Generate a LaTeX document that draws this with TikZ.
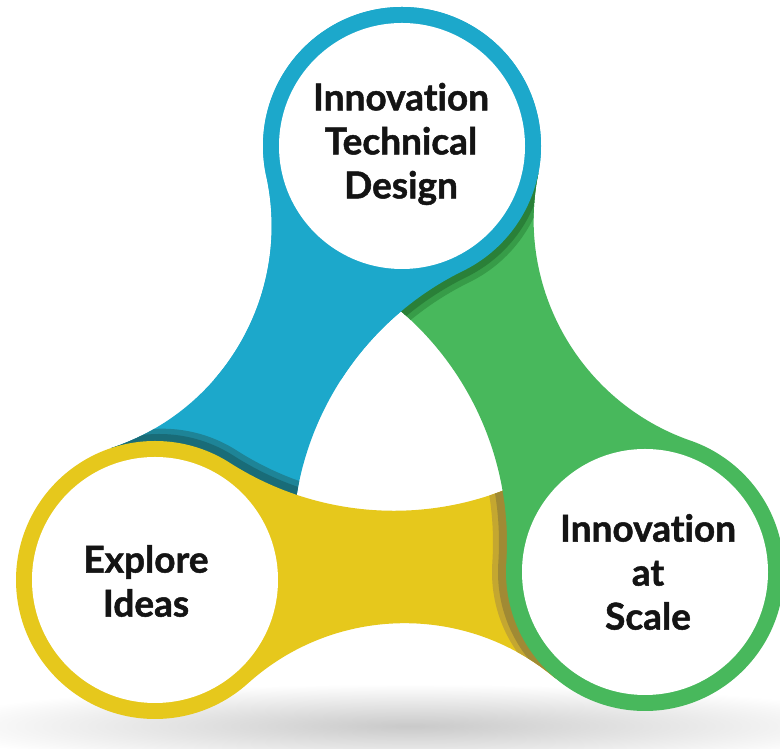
\documentclass[tikz,border=0pt]{standalone}
\usepackage{fontspec}
\setmainfont{Lato}[Ligatures={NoCommon,NoRare}, BoldFeatures={FakeBold=1.3}]

\definecolor{blueC}{HTML}{1CA8CB}
\definecolor{tealA}{HTML}{1E8497}
\definecolor{tealB}{HTML}{196C78}
\definecolor{greenC}{HTML}{48B85C}
\definecolor{greenA}{HTML}{379C48}
\definecolor{greenB}{HTML}{2A8038}
\definecolor{yellowC}{HTML}{E6C81C}
\definecolor{oliveA}{HTML}{C4A730}
\definecolor{oliveB}{HTML}{A08A34}

% ring radii and radii of the gaps that shape the necks (pt)
\def\RingOut{139}
\def\RingIn{123}
\def\GapIn{305}
\def\GapOut{234}

% \mkneck{name}{Ax}{Ay}{Bx}{By}: stores \neck<name>, the closed path of the
% neck running from disk A to disk B, bounded by two arcs tangent to both disks
\newcommand\mkneck[5]{%
  \edef\nkAx{#2}\edef\nkAy{#3}\edef\nkBx{#4}\edef\nkBy{#5}%
  \edef\nkD{\fpeval{sqrt(((\nkBx)-(\nkAx))^2+((\nkBy)-(\nkAy))^2)}}%
  \edef\nkNx{\fpeval{((\nkAy)-(\nkBy))/(\nkD)}}%
  \edef\nkNy{\fpeval{((\nkBx)-(\nkAx))/(\nkD)}}%
  \edef\nkMx{\fpeval{((\nkAx)+(\nkBx))/2}}%
  \edef\nkMy{\fpeval{((\nkAy)+(\nkBy))/2}}%
  \edef\nkHi{\fpeval{sqrt((\GapIn+\RingOut)^2-((\nkD)/2)^2)}}%
  \edef\nkHo{\fpeval{sqrt((\GapOut+\RingOut)^2-((\nkD)/2)^2)}}%
  \edef\nkCix{\fpeval{(\nkMx)+(\nkHi)*(\nkNx)}}%
  \edef\nkCiy{\fpeval{(\nkMy)+(\nkHi)*(\nkNy)}}%
  \edef\nkCox{\fpeval{(\nkMx)-(\nkHo)*(\nkNx)}}%
  \edef\nkCoy{\fpeval{(\nkMy)-(\nkHo)*(\nkNy)}}%
  \edef\nkOa{\fpeval{atand((\nkAy)-(\nkCoy),(\nkAx)-(\nkCox))}}%
  \edef\nkOb{\fpeval{atand((\nkBy)-(\nkCoy),(\nkBx)-(\nkCox))}}%
  \edef\nkIa{\fpeval{atand((\nkAy)-(\nkCiy),(\nkAx)-(\nkCix))}}%
  \edef\nkIb{\fpeval{atand((\nkBy)-(\nkCiy),(\nkBx)-(\nkCix))}}%
  \edef\nkOd{\fpeval{(\nkOb)-(\nkOa)}}%
  \edef\nkOd{\fpeval{round((\nkOd)>180?(\nkOd)-360:((\nkOd)<-180?(\nkOd)+360:(\nkOd)),4)}}%
  \edef\nkId{\fpeval{(\nkIa)-(\nkIb)}}%
  \edef\nkId{\fpeval{round((\nkId)>180?(\nkId)-360:((\nkId)<-180?(\nkId)+360:(\nkId)),4)}}%
  \edef\nkPx{\fpeval{round((\nkCox)+\GapOut*cosd(\nkOa),3)}}%
  \edef\nkPy{\fpeval{round((\nkCoy)+\GapOut*sind(\nkOa),3)}}%
  \edef\nkQx{\fpeval{round((\nkCix)+\GapIn*cosd(\nkIb),3)}}%
  \edef\nkQy{\fpeval{round((\nkCiy)+\GapIn*sind(\nkIb),3)}}%
  \edef\nkOa{\fpeval{round(\nkOa,4)}}%
  \edef\nkIb{\fpeval{round(\nkIb,4)}}%
  \expandafter\xdef\csname neck#1\endcsname{(\nkAx,\nkAy) -- (\nkPx,\nkPy)
    arc[start angle=\nkOa, delta angle=\nkOd, radius=\GapOut pt]
    -- (\nkBx,\nkBy) -- (\nkQx,\nkQy)
    arc[start angle=\nkIb, delta angle=\nkId, radius=\GapIn pt] -- cycle}%
}

% disk centres: T (top), L (left), R (right)
\mkneck{TL}{402}{603}{155}{169}
\mkneck{LR}{155}{169}{645}{177}
\mkneck{RT}{645}{177}{402}{603}

\begin{document}
\begin{tikzpicture}[x=1pt,y=1pt,
  face/.style={fill=white},
  lbl/.style={align=center, text=black!92, inner sep=0pt,
    font=\bfseries\fontsize{37pt}{44pt}\selectfont}]
\useasboundingbox (0,0) rectangle (780,749);
\fill[white] (0,0) rectangle (780,749);

% soft floor shadow
\begin{scope}
  \clip (0,0) rectangle (780,749);
  \shade[inner color=black!21, outer color=white]
    (410,23) ellipse[x radius=480pt, y radius=42pt];
\end{scope}

% blue disk with its neck
\fill[blueC] \neckTL (402,603) circle[radius=\RingOut pt];

% shadow of the yellow shape on the blue
\begin{scope}
  \clip \neckTL (402,603) circle[radius=\RingOut pt];
  \fill[tealA, shift={(7,12.3)}] \neckLR (155,169) circle[radius=\RingOut pt];
  \fill[tealB, shift={(4,7)}] \neckLR (155,169) circle[radius=\RingOut pt];
\end{scope}

% yellow disk with its neck
\fill[yellowC] \neckLR (155,169) circle[radius=\RingOut pt];

% shadow of the green shape on the yellow
\begin{scope}
  \clip \neckLR (155,169) circle[radius=\RingOut pt];
  \fill[oliveA, shift={(-14,-0.2)}] \neckRT (645,177) circle[radius=\RingOut pt];
  \fill[oliveB, shift={(-8,-0.1)}] \neckRT (645,177) circle[radius=\RingOut pt];
\end{scope}

% green disk with its neck
\fill[greenC] \neckRT (645,177) circle[radius=\RingOut pt];

% blue again on top of the green neck, with its shadow
\begin{scope}
  \clip (0,369) rectangle (780,749);
  \begin{scope}
    \clip \neckRT (645,177) circle[radius=\RingOut pt];
    \fill[greenA, shift={(6.4,-11.3)}] \neckTL (402,603) circle[radius=\RingOut pt];
    \fill[greenB, shift={(3.5,-6.1)}] \neckTL (402,603) circle[radius=\RingOut pt];
  \end{scope}
  \fill[blueC] \neckTL (402,603) circle[radius=\RingOut pt];
\end{scope}

% white faces
\fill[face] (402,603) circle[radius=\RingIn pt];
\fill[face] (155,169) circle[radius=\RingIn pt];
\fill[face] (645,177) circle[radius=\RingIn pt];

% labels
\node[lbl] (design) at (401,605) {Innovation\\Technical\\Design};
\node[lbl] (explore) at (146,168) {Explore\\Ideas};
\node[lbl] (scale) at (648,177) {Innovation\\at\\Scale};
\end{tikzpicture}
\end{document}
